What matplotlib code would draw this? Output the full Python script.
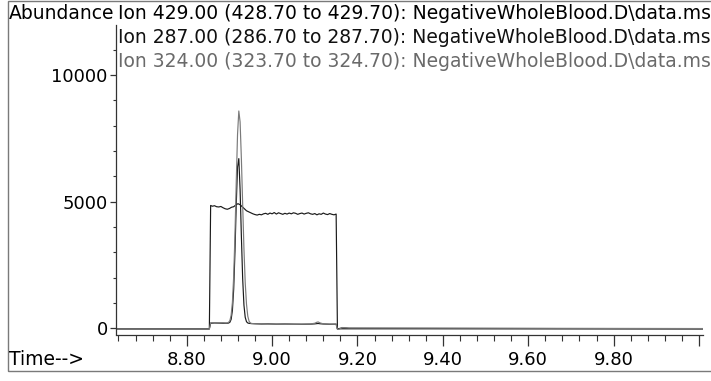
import matplotlib
matplotlib.use("Agg")
import matplotlib.pyplot as plt
from matplotlib.ticker import FixedLocator, FixedFormatter
from matplotlib.patches import Rectangle

plt.rcParams['font.family'] = ['DejaVu Sans']

# ---------------- data ----------------
header_lines = [
    "Ion 429.00 (428.70 to 429.70): NegativeWholeBlood.D\\data.ms",
    "Ion 287.00 (286.70 to 287.70): NegativeWholeBlood.D\\data.ms",
    "Ion 324.00 (323.70 to 324.70): NegativeWholeBlood.D\\data.ms",
]
x_major = [8.80, 9.00, 9.20, 9.40, 9.60, 9.80, 10.00]
x_labels = ["8.80", "9.00", "9.20", "9.40", "9.60", "9.80", ""]
y_major = [0, 5000, 10000]
y_labels = ["0", "5000", "10000"]

# Ion 429 : broad plateau
t_429 = [8.634, 8.853, 8.856,
         8.860, 8.865, 8.870, 8.875, 8.880, 8.885, 8.890, 8.895, 8.900, 8.905,
         8.910, 8.915, 8.920, 8.925, 8.930, 8.935, 8.940, 8.945, 8.950, 8.955,
         8.960, 8.965, 8.970, 8.975, 8.980, 8.985, 8.990, 8.995, 9.000, 9.005,
         9.010, 9.015, 9.020, 9.025, 9.030, 9.035, 9.040, 9.045, 9.050, 9.055,
         9.060, 9.065, 9.070, 9.075, 9.080, 9.085, 9.090, 9.095, 9.100, 9.105,
         9.110, 9.115, 9.120, 9.125, 9.130, 9.135, 9.140, 9.145, 9.150,
         9.153, 10.009]
v_429 = [-20, -20, 4850,
         4820, 4840, 4800, 4790, 4810, 4760, 4720, 4700, 4730, 4780,
         4800, 4870, 4920, 4880, 4800, 4720, 4640, 4600, 4560, 4520,
         4490, 4470, 4500, 4480, 4520, 4540, 4500, 4550, 4520, 4570,
         4510, 4560, 4530, 4500, 4540, 4510, 4550, 4520, 4560, 4540,
         4500, 4530, 4550, 4510, 4540, 4560, 4520, 4500, 4530, 4480,
         4520, 4500, 4550, 4510, 4490, 4530, 4500, 4480, 4510,
         -20, -20]

# Ion 287 and Ion 324 share the same sampling times
t_peak = [8.634, 8.853, 8.856, 8.865, 8.875, 8.885, 8.892,
          8.895, 8.898, 8.901, 8.904, 8.907, 8.910, 8.913, 8.916, 8.919, 8.922,
          8.925, 8.928, 8.931, 8.934, 8.937, 8.940, 8.943, 8.946, 8.949, 8.952,
          8.960, 8.975, 8.990, 9.010, 9.030, 9.050, 9.070, 9.090, 9.100, 9.105,
          9.108, 9.112, 9.120, 9.135, 9.150, 9.153, 9.157, 9.165, 9.180, 10.009]
v_287 = [-20, -20, 200, 210, 205, 200, 200,
         200, 207, 236, 351, 708, 1548, 3028, 4896, 6370, 6700,
         5480, 3638, 1970, 920, 433, 260, 210, 195, 190, 185,
         180, 170, 175, 165, 170, 165, 160, 165, 175, 185,
         190, 180, 170, 160, 165, -20, -10, 20, 0, -20]
v_324 = [-20, -20, 220, 225, 215, 220, 210,
         215, 235, 300, 510, 1020, 2050, 3700, 5770, 7650, 8580,
         8150, 6700, 4900, 3150, 1800, 950, 480, 280, 210, 190,
         180, 175, 170, 165, 170, 160, 165, 170, 200, 240,
         250, 215, 175, 165, 160, -40, -30, 30, 10, -10]

# ---------------- figure ----------------
W, H = 711, 381
fig = plt.figure(figsize=(W / 100, H / 100), dpi=100)

def fx(px):
    return px / W

def fy(py):
    return 1 - py / H

# outer frame
fig.patches.append(Rectangle((fx(7.5), fy(371)), fx(720) - fx(7.5), fy(1) - fy(371),
                             transform=fig.transFigure, fill=False,
                             edgecolor="#7a7a7a", linewidth=1.0))

ax = fig.add_axes([fx(116), fy(334.5), fx(703) - fx(116), fy(25) - fy(334.5)])
ax.patch.set_alpha(0)
ax.set_xlim(8.6343, 10.0094)
ax.set_ylim(-245, 11975)

ax.plot(t_429, v_429, color="#1a1a1a", lw=0.85)
ax.plot(t_peak, v_287, color="#1a1a1a", lw=0.85)
ax.plot(t_peak, v_324, color="#7a7a7a", lw=0.85)

for s in ["top", "right"]:
    ax.spines[s].set_visible(False)
for s in ["left", "bottom"]:
    ax.spines[s].set_color("#333333")
    ax.spines[s].set_linewidth(0.9)

ax.xaxis.set_major_locator(FixedLocator(x_major))
ax.xaxis.set_major_formatter(FixedFormatter(x_labels))
ax.xaxis.set_minor_locator(FixedLocator([8.64 + 0.04 * i for i in range(35)]))
ax.yaxis.set_major_locator(FixedLocator(y_major))
ax.yaxis.set_major_formatter(FixedFormatter(y_labels))
ax.yaxis.set_minor_locator(FixedLocator([1000 * i for i in range(12)]))

ax.tick_params(axis="x", which="major", length=8, width=0.9, color="#333333",
               labelsize=13, pad=4, direction="out")
ax.tick_params(axis="x", which="minor", length=4, width=0.8, color="#333333",
               direction="out")
ax.tick_params(axis="y", which="major", length=4, width=0.9, color="#333333",
               labelsize=13, pad=2, direction="out")
ax.tick_params(axis="y", which="minor", length=2, width=0.8, color="#333333",
               direction="out")

# header texts
fs = 13.5
fig.text(fx(9), fy(19), "Abundance", fontsize=fs, va="baseline", ha="left", color="#000000")
colors = ["#000000", "#111111", "#6a6a6a"]
for i, (txt, c) in enumerate(zip(header_lines, colors)):
    fig.text(fx(118), fy(19 + 24 * i), txt, fontsize=fs, va="baseline", ha="left", color=c)
fig.text(fx(9), fy(365), "Time-->", fontsize=fs, va="baseline", ha="left", color="#000000")

fig.savefig("out.png", dpi=100)
